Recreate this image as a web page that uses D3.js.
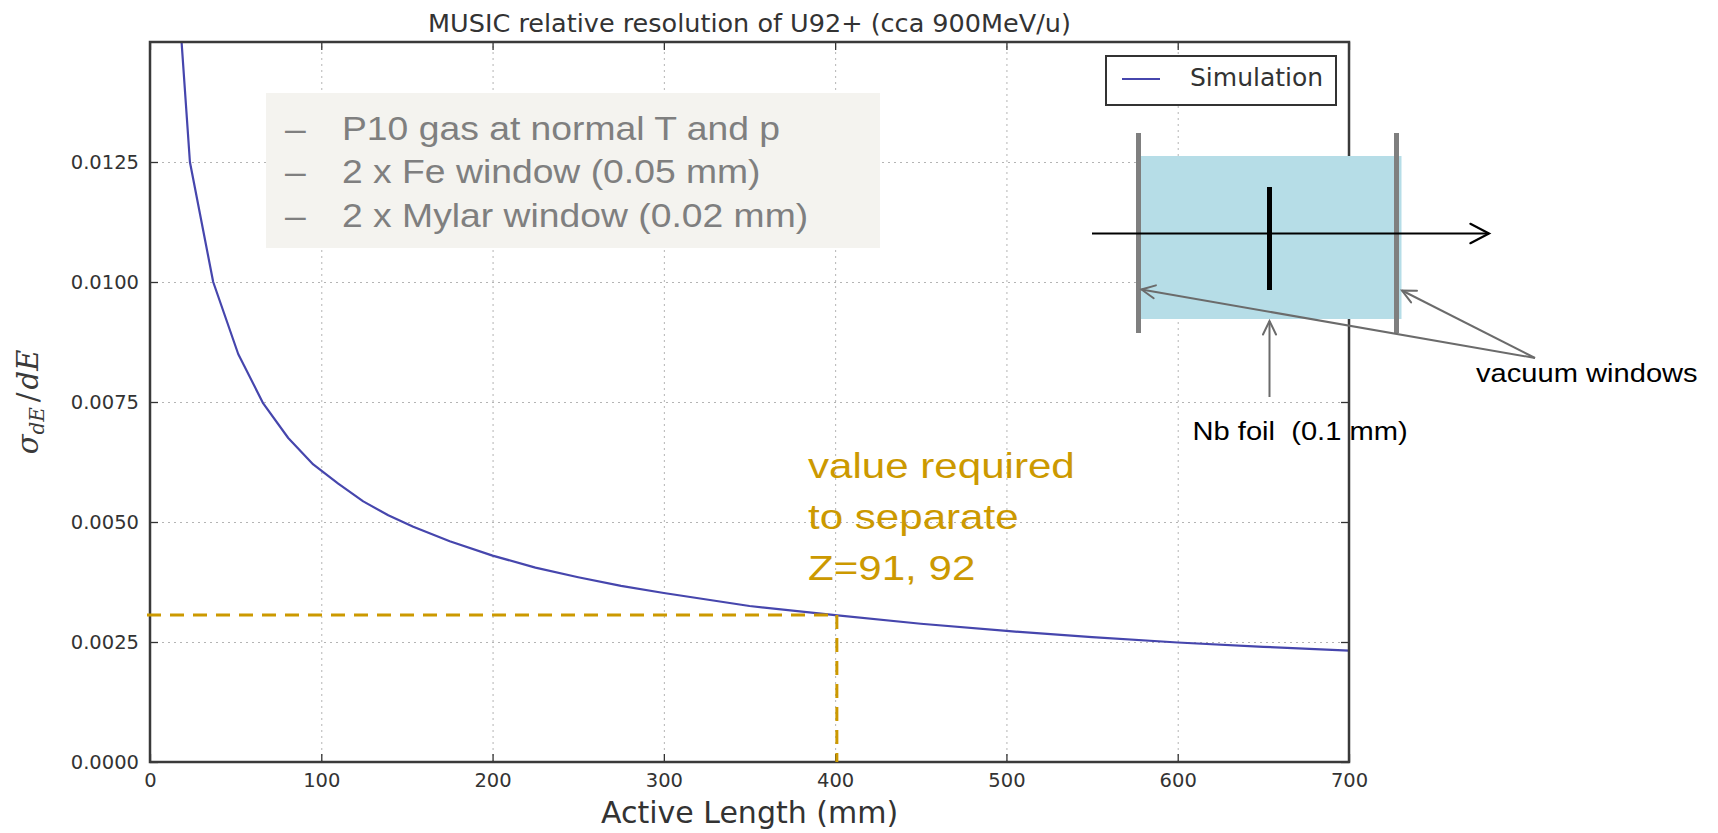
<!DOCTYPE html>
<html>
<head>
<meta charset="utf-8">
<script src="https://cdn.jsdelivr.net/npm/d3@7"></script>
<style>
  html, body { margin: 0; padding: 0; background: #ffffff; }
  svg { display: block; }
</style>
</head>
<body>
<svg id="chart" width="1718" height="833"></svg>
<script>
// ---- data -------------------------------------------------------------
// Active length of the chamber (mm) and simulated relative dE resolution
const lengths = [8.7, 23.3, 36.9, 51.5, 66.1, 80.7, 95.3, 109.9, 124.5, 139.1, 153.7,
                 175, 200, 225, 250, 275, 300, 350, 400, 450, 500, 550, 600, 650, 700];
const resolution = [0.0200, 0.0125, 0.0100, 0.0085, 0.00747, 0.00675, 0.0062, 0.0058, 0.00543, 0.00514, 0.0049,
                    0.0046, 0.0043, 0.00405, 0.00385, 0.00367, 0.00352, 0.00325, 0.00306, 0.00288, 0.00273,
                    0.0026, 0.00249, 0.0024, 0.00232];

const xDomain = [0, 700];
const yDomain = [0, 0.015];
const xTicks = [0, 100, 200, 300, 400, 500, 600, 700];
const yTicks = [0, 0.0025, 0.005, 0.0075, 0.01, 0.0125];
const yTickLabels = ["0.0000", "0.0025", "0.0050", "0.0075", "0.0100", "0.0125"];

const titleText = "MUSIC relative resolution of U92+ (cca 900MeV/u)";
const xLabelText = "Active Length (mm)";
const seriesName = "Simulation";

// working point needed to separate neighbouring charges
const requiredLength = 401;
const requiredResolution = 0.00306;
const requiredNote = ["value required", "to separate", "Z=91, 92"];

const conditions = ["P10 gas at normal T and p", "2 x Fe window (0.05 mm)", "2 x Mylar window (0.02 mm)"];
const foilLabel = "Nb foil  (0.1 mm)";
const windowLabel = "vacuum windows";

// ---- layout -----------------------------------------------------------
const svg = d3.select("#chart");
const plot = { left: 150, right: 1349, top: 42, bottom: 762 };
const x = d3.scaleLinear().domain(xDomain).range([plot.left, plot.right]);
const y = d3.scaleLinear().domain(yDomain).range([plot.bottom, plot.top]);
const W = plot.right - plot.left, H = plot.bottom - plot.top;

const plotFont = "'DejaVu Sans', sans-serif";
const slideFont = "'Liberation Sans', Arial, sans-serif";
const ink = "#333333";
const curveColor = "#4646ad";
const gold = "#cc9900";

svg.append("defs").append("clipPath").attr("id", "plot-clip")
  .append("rect").attr("x", plot.left).attr("y", plot.top).attr("width", W).attr("height", H);

// ---- grid -------------------------------------------------------------
const gridStyle = g => {
  g.select(".domain").remove();
  g.selectAll(".tick line").attr("stroke", "#b4b4b4").attr("stroke-width", 1).attr("stroke-dasharray", "2,4");
  g.selectAll(".tick text").remove();
};
svg.append("g").attr("transform", `translate(0,${plot.bottom})`)
  .call(d3.axisBottom(x).tickValues(xTicks.filter(v => v > xDomain[0] && v < xDomain[1])).tickSize(-H))
  .call(gridStyle);
svg.append("g").attr("transform", `translate(${plot.left},0)`)
  .call(d3.axisLeft(y).tickValues(yTicks.filter(v => v > yDomain[0])).tickSize(-W))
  .call(gridStyle);

// ---- curve ------------------------------------------------------------
const series = lengths.map((l, i) => ({ l, r: resolution[i] }));
svg.append("path")
  .datum(series)
  .attr("clip-path", "url(#plot-clip)")
  .attr("fill", "none")
  .attr("stroke", curveColor)
  .attr("stroke-width", 2.2)
  .attr("stroke-linejoin", "round")
  .attr("d", d3.line().x(d => x(d.l)).y(d => y(d.r)));

// ---- axes (inward ticks on all four sides) ----------------------------
const tickStyle = g => {
  g.select(".domain").remove();
  g.selectAll(".tick line").attr("stroke", ink).attr("stroke-width", 1.3);
  g.selectAll(".tick text").attr("fill", ink).attr("font-family", plotFont).attr("font-size", 19.5);
};
svg.append("g").attr("transform", `translate(0,${plot.bottom})`)
  .call(d3.axisBottom(x).tickValues(xTicks).tickSize(-8).tickPadding(11).tickFormat(d3.format("d")))
  .call(tickStyle);
svg.append("g").attr("transform", `translate(${plot.left},0)`)
  .call(d3.axisLeft(y).tickValues(yTicks).tickSize(-8).tickPadding(11)
    .tickFormat((d, i) => yTickLabels[i]))
  .call(tickStyle);
svg.append("g").attr("transform", `translate(0,${plot.top})`)
  .call(d3.axisTop(x).tickValues(xTicks).tickSize(-8).tickFormat(""))
  .call(tickStyle);
svg.append("g").attr("transform", `translate(${plot.right},0)`)
  .call(d3.axisRight(y).tickValues(yTicks).tickSize(-8).tickFormat(""))
  .call(tickStyle);

svg.append("rect")
  .attr("x", plot.left).attr("y", plot.top).attr("width", W).attr("height", H)
  .attr("fill", "none").attr("stroke", "#3a3a3a").attr("stroke-width", 2.5);

// ---- titles -----------------------------------------------------------
svg.append("text")
  .attr("x", (plot.left + plot.right) / 2).attr("y", 32)
  .attr("text-anchor", "middle").attr("font-family", plotFont).attr("font-size", 25.5)
  .attr("fill", ink).text(titleText);

svg.append("text")
  .attr("x", (plot.left + plot.right) / 2).attr("y", 823)
  .attr("text-anchor", "middle").attr("font-family", plotFont).attr("font-size", 30)
  .attr("fill", ink).text(xLabelText);

// y label: sigma_dE / dE
const yl = svg.append("text")
  .attr("transform", `translate(38,${(plot.top + plot.bottom) / 2}) rotate(-90)`)
  .attr("text-anchor", "middle")
  .attr("font-family", "'DejaVu Serif', serif")
  .attr("font-size", 29).attr("fill", "#3a3a3a");
yl.append("tspan").attr("font-style", "italic").text("σ");
yl.append("tspan").attr("font-style", "italic").attr("font-size", 20).attr("dy", 6).text("dE");
yl.append("tspan").attr("dy", -6).attr("dx", 5).text("/");
yl.append("tspan").attr("font-style", "italic").attr("dx", 3).text("dE");

// ---- legend -----------------------------------------------------------
const legend = svg.append("g");
legend.append("rect").attr("x", 1106).attr("y", 56).attr("width", 230).attr("height", 49)
  .attr("fill", "#ffffff").attr("stroke", "#333333").attr("stroke-width", 2);
legend.append("line").attr("x1", 1122).attr("x2", 1160).attr("y1", 79).attr("y2", 79)
  .attr("stroke", curveColor).attr("stroke-width", 2.2);
legend.append("text").attr("x", 1190).attr("y", 86)
  .attr("font-family", plotFont).attr("font-size", 25).attr("fill", ink).text(seriesName);

// ---- required-value guide lines ----------------------------------------
svg.append("path")
  .attr("fill", "none").attr("stroke", gold).attr("stroke-width", 3)
  .attr("stroke-dasharray", "14,9")
  .attr("d", `M${plot.left - 3},${y(requiredResolution)} H${x(requiredLength)}`);
svg.append("path")
  .attr("fill", "none").attr("stroke", gold).attr("stroke-width", 3)
  .attr("stroke-dasharray", "14,9")
  .attr("d", `M${x(requiredLength)},${y(requiredResolution)} V${plot.bottom}`);

const stretched = (sel, px, py, sx) => sel.attr("transform", `translate(${px},${py}) scale(${sx},1)`);

requiredNote.forEach((line, i) => {
  svg.append("text").call(stretched, 808, 478 + i * 51, 1.17)
    .attr("font-family", slideFont).attr("font-size", 36).attr("fill", gold).text(line);
});

// ---- conditions box ---------------------------------------------------
svg.append("rect").attr("x", 266).attr("y", 93).attr("width", 614).attr("height", 155)
  .attr("fill", "#f4f3ef");
conditions.forEach((line, i) => {
  const by = 139.5 + i * 43.5;
  svg.append("text").call(stretched, 285, by, 1.13)
    .attr("font-family", slideFont).attr("font-size", 33).attr("fill", "#7f7f7f").text("–");
  svg.append("text").call(stretched, 342, by, 1.13)
    .attr("font-family", slideFont).attr("font-size", 33).attr("fill", "#7f7f7f").text(line);
});

// ---- chamber sketch ---------------------------------------------------
const sketch = svg.append("g");
sketch.append("rect").attr("x", 1139.5).attr("y", 156).attr("width", 262).attr("height", 163)
  .attr("fill", "#b6dde7");
[1138.5, 1396.5].forEach(cx => {
  sketch.append("line").attr("x1", cx).attr("x2", cx).attr("y1", 133).attr("y2", 333)
    .attr("stroke", "#7f7f7f").attr("stroke-width", 5);
});
sketch.append("line").attr("x1", 1269.5).attr("x2", 1269.5).attr("y1", 187).attr("y2", 290)
  .attr("stroke", "#000000").attr("stroke-width", 5);

function arrow(g, x1, y1, x2, y2, color, width, head, spread) {
  const a = Math.atan2(y2 - y1, x2 - x1);
  g.append("line").attr("x1", x1).attr("y1", y1).attr("x2", x2).attr("y2", y2)
    .attr("stroke", color).attr("stroke-width", width);
  const arm = s => [x2 - head * Math.cos(a + s * spread), y2 - head * Math.sin(a + s * spread)];
  const p1 = arm(1), p2 = arm(-1);
  g.append("path").attr("fill", "none").attr("stroke", color).attr("stroke-width", width)
    .attr("stroke-linejoin", "miter").attr("stroke-linecap", "round")
    .attr("d", `M${p1[0]},${p1[1]} L${x2},${y2} L${p2[0]},${p2[1]}`);
}
// beam
arrow(sketch, 1092, 233.5, 1489, 233.5, "#000000", 2.2, 21, 0.48);
// pointers
arrow(sketch, 1535, 358, 1141.5, 289.5, "#6b6b6b", 2, 15, 0.45);
arrow(sketch, 1535, 358, 1402, 290.5, "#6b6b6b", 2, 15, 0.45);
arrow(sketch, 1269.5, 397, 1269.5, 321, "#6b6b6b", 2, 15, 0.45);

svg.append("text").call(stretched, 1476, 382, 1.12)
  .attr("font-family", slideFont).attr("font-size", 26).attr("fill", "#000000").text(windowLabel);
svg.append("text").call(stretched, 1192.5, 440, 1.12)
  .attr("font-family", slideFont).attr("font-size", 26).attr("fill", "#000000")
  .style("white-space", "pre").text(foilLabel);
</script>
</body>
</html>
